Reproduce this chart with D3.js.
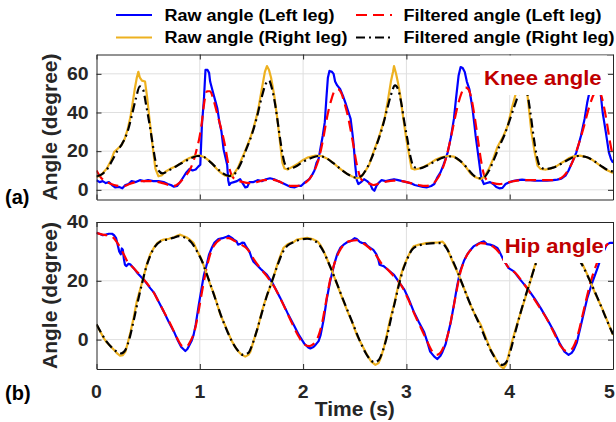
<!DOCTYPE html>
<html>
<head>
<meta charset="utf-8">
<script src="https://cdn.jsdelivr.net/npm/d3@7"></script>
<style>
  body { margin: 0; background: #fff; }
  svg { display: block; }
</style>
</head>
<body>
<svg id="chart" width="616" height="422"></svg>
<script>
// Gait joint angles over 5 s: knee (a) and hip (b), left/right leg, raw and filtered.
const timeTicks = [0, 1, 2, 3, 4, 5];
const kneeTicks = [0, 20, 40, 60];
const hipTicks = [0, 20, 40];

// [time (s), angle (deg)]
const kneeRawLeft = [[0,5],[0.03,4],[0.06,4.5],[0.09,3.5],[0.12,4],[0.15,2.5],[0.18,1.3],[0.22,1.5],[0.25,0.8],[0.28,2.5],[0.31,3],[0.34,4.5],[0.38,4],[0.42,5],[0.46,4.5],[0.5,5],[0.55,4.5],[0.6,4.5],[0.65,4],[0.69,3],[0.72,2.5],[0.75,1.6],[0.78,2],[0.81,4],[0.84,6.5],[0.87,9],[0.9,10.8],[0.93,10],[0.96,10.5],[0.985,12],[1.005,13],[1.02,33],[1.04,47],[1.055,62],[1.075,62],[1.09,60.5],[1.1,56],[1.13,50],[1.15,46],[1.17,42],[1.19,35],[1.21,30],[1.23,21],[1.265,13],[1.275,5],[1.285,2.5],[1.3,3.5],[1.33,4],[1.36,4.5],[1.39,5.5],[1.42,3],[1.44,1.3],[1.46,1.5],[1.48,4],[1.52,4],[1.56,5],[1.6,4.5],[1.64,5.5],[1.68,6],[1.72,5.5],[1.76,4.5],[1.8,3.5],[1.84,2.5],[1.88,1.5],[1.92,1.3],[1.95,2],[1.98,2],[2.02,4],[2.06,5.5],[2.09,8],[2.11,10],[2.13,14],[2.15,16],[2.17,22],[2.19,28],[2.21,35],[2.225,47],[2.24,58],[2.255,61.5],[2.28,61],[2.295,60],[2.31,56],[2.33,54],[2.36,52],[2.39,48],[2.41,45],[2.44,40],[2.46,36.7],[2.48,28],[2.49,23],[2.505,12.5],[2.52,5],[2.535,3],[2.56,4],[2.59,5.5],[2.62,4.5],[2.65,3],[2.67,0.5],[2.69,-0.5],[2.71,2],[2.73,3.5],[2.76,5],[2.8,4.5],[2.84,5],[2.88,5.5],[2.92,5],[2.96,4.5],[3,4],[3.04,3.5],[3.08,2.5],[3.12,2],[3.16,1.5],[3.2,1.3],[3.24,2],[3.27,3],[3.3,6.5],[3.33,9],[3.36,13],[3.38,16],[3.4,19.4],[3.43,27],[3.46,36.7],[3.48,47],[3.505,59],[3.525,63.5],[3.545,63],[3.565,61],[3.585,56],[3.61,52],[3.625,47],[3.64,42],[3.66,33],[3.67,28],[3.69,20],[3.7,16],[3.72,8],[3.73,5.5],[3.75,3],[3.78,3.5],[3.81,4],[3.84,3],[3.87,1.5],[3.9,0.8],[3.93,1],[3.96,3],[4,4],[4.04,4.7],[4.08,5],[4.12,5.3],[4.16,5],[4.2,5],[4.24,4.7],[4.3,4.7],[4.36,4.7],[4.42,5],[4.46,5.3],[4.5,5.8],[4.54,7.3],[4.57,10],[4.59,12.5],[4.62,16],[4.645,19.4],[4.67,24],[4.69,28],[4.71,33],[4.725,36.7],[4.75,45],[4.77,50],[4.8,58],[4.83,62],[4.86,60],[4.88,50],[4.9,40],[4.93,30],[4.96,19.4],[4.98,16],[5,14]];

const kneeFiltLeft = [[0,10],[0.04,6.5],[0.08,4.5],[0.12,3.5],[0.17,2.5],[0.22,2],[0.27,2],[0.32,3],[0.38,4],[0.45,4.5],[0.52,4.5],[0.58,4.2],[0.64,3.5],[0.7,2.5],[0.75,2],[0.8,3.5],[0.85,6.5],[0.9,10],[0.94,15],[0.97,21],[1,28],[1.02,35],[1.04,44],[1.07,51],[1.1,51],[1.13,47],[1.17,39],[1.2,33],[1.24,24],[1.28,12.5],[1.32,6.5],[1.37,4.8],[1.42,4],[1.48,3.5],[1.55,4],[1.62,5],[1.7,5.3],[1.76,4.5],[1.82,3],[1.88,2],[1.94,2],[2,3],[2.06,5.5],[2.1,9],[2.14,14],[2.17,20],[2.2,28],[2.23,37],[2.27,46],[2.31,51.5],[2.34,52],[2.37,50],[2.4,45],[2.43,39],[2.46,31],[2.49,22],[2.52,13],[2.55,7],[2.58,4.5],[2.63,3.5],[2.68,2.5],[2.73,3.2],[2.8,4.2],[2.88,4.8],[2.96,4.5],[3.04,3.5],[3.12,2.5],[3.18,2],[3.24,2.5],[3.29,5],[3.33,8.5],[3.37,14],[3.41,22],[3.45,32],[3.49,42],[3.53,49.5],[3.57,53],[3.6,52],[3.63,47],[3.66,38],[3.69,27],[3.72,16],[3.75,8],[3.79,4.5],[3.84,3.5],[3.9,3],[3.96,3.5],[4.04,4.5],[4.12,5],[4.2,5],[4.3,5],[4.4,5],[4.47,5.5],[4.52,7],[4.57,10.5],[4.62,16],[4.67,24],[4.72,33],[4.77,43],[4.82,50],[4.86,52],[4.9,46],[4.94,35],[4.97,25],[5,17]];

const kneeRawRight = [[0,6.5],[0.05,8],[0.1,11],[0.14,15],[0.17,19.5],[0.2,21],[0.24,23],[0.27,26],[0.3,31],[0.33,38],[0.35,45],[0.37,52],[0.39,58],[0.405,61],[0.42,58],[0.44,56.5],[0.47,56],[0.49,48],[0.51,38],[0.54,24],[0.57,11],[0.6,7],[0.63,7.5],[0.67,9.5],[0.72,11],[0.78,12.5],[0.85,15],[0.9,16.5],[0.95,17.5],[1,17.8],[1.04,17],[1.08,15.5],[1.12,13.5],[1.16,11],[1.2,9],[1.24,7.5],[1.28,7],[1.31,7.2],[1.34,9],[1.37,11.5],[1.39,14],[1.43,19],[1.46,23],[1.49,27],[1.52,32],[1.55,38],[1.57,43],[1.6,52],[1.63,61],[1.65,64],[1.67,62],[1.69,58],[1.72,49],[1.75,37],[1.78,23],[1.8,14],[1.82,11],[1.85,10.5],[1.9,12],[1.95,13.5],[2,15.5],[2.05,16.8],[2.12,17.7],[2.18,17.5],[2.24,16],[2.3,13.5],[2.36,10.8],[2.42,8.5],[2.47,7],[2.52,6],[2.56,6.5],[2.6,9.5],[2.64,13],[2.68,19.4],[2.72,25],[2.75,30],[2.79,37],[2.82,46],[2.85,56],[2.87,61],[2.88,64],[2.9,60],[2.92,55],[2.94,49],[2.97,37],[3,26],[3.03,17],[3.05,11],[3.08,10.5],[3.12,11],[3.16,11.7],[3.22,13.4],[3.28,15.5],[3.34,16.8],[3.4,17.5],[3.46,17.2],[3.53,14.5],[3.58,11.5],[3.62,8.5],[3.67,6.5],[3.72,5.5],[3.76,7],[3.8,11],[3.84,16],[3.88,22],[3.91,25],[3.94,28],[3.98,33],[4.02,42],[4.05,48],[4.08,54],[4.11,59],[4.13,62],[4.15,58],[4.17,50],[4.19,40],[4.21,30],[4.24,20],[4.27,12.5],[4.3,10.8],[4.35,10.5],[4.4,11],[4.46,12.5],[4.52,14.5],[4.57,16.3],[4.62,17.3],[4.68,17.7],[4.74,17],[4.8,15.5],[4.86,13.2],[4.92,10.8],[4.97,9.5],[5,8.7]];

const kneeFiltRight = [[0,7],[0.05,8],[0.1,10.5],[0.15,15],[0.2,20],[0.25,24],[0.3,30],[0.34,38],[0.38,47],[0.42,53.5],[0.45,52],[0.48,44],[0.51,35],[0.54,25],[0.57,15],[0.6,10],[0.64,8.5],[0.7,10],[0.78,12.5],[0.85,14.5],[0.92,16.5],[0.98,17.5],[1.04,17],[1.1,14.5],[1.16,11.5],[1.22,8.7],[1.28,7.2],[1.32,7.5],[1.36,10],[1.4,14],[1.45,21],[1.5,28],[1.55,37],[1.6,48],[1.64,55],[1.67,56.5],[1.7,52],[1.73,44],[1.76,33],[1.79,22],[1.82,14],[1.86,11],[1.92,11.8],[2,14.5],[2.08,16.5],[2.15,17.5],[2.22,16.5],[2.3,13.5],[2.38,10],[2.45,7.5],[2.51,6.3],[2.56,7],[2.61,10.5],[2.66,16],[2.71,23],[2.76,31],[2.81,41],[2.85,49],[2.89,54],[2.92,52],[2.95,45],[2.98,35],[3.01,26],[3.04,17],[3.07,12],[3.12,11],[3.2,12.5],[3.28,14.8],[3.36,16.8],[3.44,17.3],[3.52,15],[3.58,11.8],[3.64,8],[3.7,6],[3.75,6.5],[3.8,10],[3.85,16],[3.9,22.5],[3.95,28.5],[4,36],[4.05,44],[4.1,51],[4.14,53.5],[4.17,50],[4.2,40],[4.23,28],[4.26,18],[4.29,12.5],[4.34,10.8],[4.42,11.5],[4.5,13.5],[4.58,16],[4.66,17.5],[4.74,17],[4.82,14.8],[4.9,11.8],[4.96,10],[5,9.5]];

const hipRawLeft = [[0,36.3],[0.03,36],[0.06,35.5],[0.09,35.7],[0.12,36],[0.15,36],[0.17,35.5],[0.19,34.5],[0.21,31.5],[0.22,30],[0.235,29],[0.245,31],[0.255,30.5],[0.265,27.5],[0.275,25.5],[0.29,25],[0.31,25.8],[0.33,25.5],[0.36,24.3],[0.4,22.5],[0.46,20.3],[0.52,17.5],[0.56,15.8],[0.6,13],[0.65,9.6],[0.7,6],[0.75,2.7],[0.79,-0.5],[0.82,-2.5],[0.86,-3.9],[0.88,-3.2],[0.9,-1.8],[0.92,-0.5],[0.94,1.6],[0.96,5],[0.99,11.8],[1.02,18],[1.04,22],[1.07,26],[1.09,29],[1.12,31.5],[1.14,32.9],[1.18,34.2],[1.22,34.5],[1.26,35],[1.28,35.3],[1.31,34.6],[1.33,34],[1.355,33.5],[1.37,32.3],[1.39,32.5],[1.41,33],[1.43,32.9],[1.45,31.5],[1.48,30],[1.5,28],[1.52,26.5],[1.55,25.5],[1.59,24],[1.65,22],[1.7,19.5],[1.78,14.1],[1.85,9],[1.91,5],[1.96,1.5],[2.01,-1.3],[2.05,-2.7],[2.07,-3],[2.1,-2.5],[2.12,-1.8],[2.15,-0.5],[2.17,1.6],[2.2,7],[2.23,14],[2.26,19.5],[2.3,25.5],[2.33,29],[2.36,31.2],[2.4,32.5],[2.43,33.2],[2.46,33.5],[2.5,34.5],[2.52,34.2],[2.55,33.2],[2.57,32.9],[2.6,32.8],[2.62,32],[2.65,31.2],[2.68,30.5],[2.71,29],[2.73,27],[2.74,25.5],[2.76,25.2],[2.78,25],[2.83,23.5],[2.88,22],[2.93,19.5],[2.98,17],[3.02,14],[3.07,9.6],[3.12,6],[3.17,2.7],[3.2,-0.5],[3.23,-4.1],[3.27,-5.8],[3.3,-6.6],[3.33,-5.5],[3.35,-4.1],[3.38,-1.5],[3.4,1.6],[3.43,6],[3.46,11.8],[3.49,18],[3.52,23.2],[3.56,27],[3.59,29],[3.62,30.5],[3.65,31.7],[3.7,32.7],[3.73,33.2],[3.75,33.4],[3.78,32.5],[3.81,32.3],[3.85,31.8],[3.88,31.2],[3.9,30],[3.93,27.8],[3.96,26],[3.99,24.3],[4.04,23.2],[4.1,20.5],[4.17,17.5],[4.24,14],[4.3,10.7],[4.37,6.5],[4.43,2.7],[4.48,-1],[4.53,-4.1],[4.57,-5.2],[4.6,-4.5],[4.62,-3.5],[4.65,-1],[4.69,5],[4.72,9.5],[4.75,14],[4.8,19.5],[4.85,24.3],[4.89,28.5],[4.94,32.3],[4.97,32.9],[5,32.9]];

const hipFiltLeft = [[0,36.3],[0.05,35.8],[0.1,35.5],[0.15,35],[0.2,33],[0.25,30],[0.3,26.5],[0.36,24.3],[0.42,22],[0.48,19.5],[0.54,16.8],[0.6,13],[0.66,9],[0.72,5],[0.78,0.5],[0.83,-2.2],[0.87,-2.4],[0.91,-0.5],[0.95,3],[0.99,10],[1.03,18],[1.07,25],[1.11,30],[1.16,33],[1.22,34.3],[1.28,34.5],[1.34,33.5],[1.4,32.3],[1.46,30.8],[1.52,27.5],[1.58,24.5],[1.65,21.5],[1.72,18],[1.8,12.5],[1.88,6.5],[1.95,1.5],[2.01,-1.6],[2.06,-2.2],[2.1,-1.5],[2.14,0.5],[2.18,5],[2.22,12.5],[2.26,20],[2.3,25.5],[2.35,30],[2.4,32.5],[2.46,33.6],[2.52,33.8],[2.58,32.8],[2.64,31.2],[2.7,29],[2.76,25.8],[2.82,23.8],[2.88,21.5],[2.95,18.5],[3.02,13.5],[3.08,8.5],[3.14,4],[3.2,-0.5],[3.25,-4],[3.29,-5.2],[3.32,-4.8],[3.36,-2.5],[3.4,1.5],[3.44,8],[3.48,15.5],[3.52,22.5],[3.56,26.8],[3.6,29.5],[3.66,31.5],[3.72,32.8],[3.78,32.6],[3.84,31.6],[3.9,29.5],[3.95,26.5],[4,24],[4.06,22.5],[4.12,19.8],[4.2,15.8],[4.28,11.5],[4.36,7],[4.44,1.5],[4.5,-2.5],[4.55,-3.9],[4.59,-3.6],[4.63,-1.5],[4.67,3],[4.71,9],[4.75,15],[4.8,21.5],[4.85,26.5],[4.9,30.5],[4.95,32.5],[5,33]];

const hipRawRight = [[0,5],[0.04,2.5],[0.07,0.5],[0.1,-1],[0.14,-2.4],[0.17,-3.5],[0.2,-4.7],[0.23,-5.5],[0.255,-5.3],[0.28,-4.1],[0.3,-1.5],[0.33,2.7],[0.36,7.5],[0.39,13],[0.43,18],[0.46,22],[0.49,26],[0.52,29],[0.56,31.5],[0.59,32.9],[0.62,33.6],[0.65,34],[0.7,34.3],[0.75,34.8],[0.78,35.3],[0.81,35.7],[0.84,35.2],[0.88,34.6],[0.91,33.8],[0.94,32.9],[0.97,30.5],[1.01,27.8],[1.04,25],[1.07,22],[1.1,18.8],[1.14,15.2],[1.17,11.8],[1.2,8.4],[1.24,5.2],[1.27,2.7],[1.31,-0.5],[1.36,-3.5],[1.4,-5],[1.44,-5.8],[1.47,-5.2],[1.49,-4.1],[1.52,-0.5],[1.56,3.9],[1.59,8],[1.62,11.8],[1.65,15],[1.69,18.7],[1.72,22],[1.75,25.5],[1.78,28.5],[1.81,31.2],[1.85,32.4],[1.88,32.9],[1.91,33.2],[1.94,34],[1.98,34.3],[2.04,34.6],[2.09,34.2],[2.14,33.4],[2.17,32],[2.2,30],[2.23,27.5],[2.27,24.3],[2.3,21.5],[2.33,18.7],[2.38,14],[2.43,9.6],[2.48,5.5],[2.52,1.6],[2.57,-1.8],[2.62,-5.2],[2.66,-7.5],[2.7,-8.6],[2.73,-8],[2.75,-6.4],[2.78,-3],[2.81,1.6],[2.84,6.5],[2.88,11.8],[2.91,16.5],[2.94,21],[2.97,24.5],[3.01,27.8],[3.04,30],[3.07,31.7],[3.11,32.2],[3.15,32.5],[3.19,32.8],[3.23,32.9],[3.27,33],[3.31,33.1],[3.35,33.3],[3.37,32.5],[3.4,30.6],[3.43,28],[3.46,25.5],[3.5,22.5],[3.53,19.8],[3.58,15.5],[3.62,11.8],[3.67,8],[3.72,5],[3.77,0.5],[3.81,-3],[3.85,-5.5],[3.88,-7.5],[3.91,-9],[3.94,-9.8],[3.965,-8.5],[3.99,-5.2],[4.02,-1],[4.06,3.9],[4.1,8.5],[4.14,13],[4.17,16.5],[4.2,19.8],[4.25,26],[4.3,30],[4.36,32.5],[4.44,33.5],[4.52,33],[4.58,32],[4.63,30],[4.67,27.5],[4.7,26],[4.74,23],[4.78,19.8],[4.83,15.5],[4.88,11.8],[4.92,8.5],[4.96,5],[5,1.6]];

const hipFiltRight = [[0,5.2],[0.05,2],[0.1,-0.8],[0.15,-2.8],[0.2,-4.2],[0.24,-4.7],[0.28,-3.5],[0.32,0.5],[0.36,6.5],[0.4,13],[0.44,19],[0.48,24.5],[0.52,28.5],[0.57,31.8],[0.62,33.4],[0.68,34],[0.74,34.6],[0.8,35.2],[0.86,34.6],[0.92,33],[0.97,30.2],[1.02,26.8],[1.07,22],[1.12,17],[1.17,11.8],[1.22,6.8],[1.27,2.5],[1.32,-1.2],[1.37,-3.8],[1.42,-5.2],[1.47,-4.5],[1.51,-1.5],[1.55,2.8],[1.6,9],[1.65,15],[1.7,20],[1.75,25],[1.8,29.5],[1.85,32],[1.91,33.2],[1.97,34],[2.04,34.3],[2.1,33.8],[2.15,32.5],[2.2,29.8],[2.25,25.8],[2.3,21.5],[2.35,17],[2.4,12.5],[2.45,8.2],[2.5,3.8],[2.55,-0.5],[2.6,-4.2],[2.65,-6.8],[2.69,-7.7],[2.73,-7],[2.77,-4],[2.81,0.8],[2.85,7],[2.89,13],[2.93,19],[2.97,24],[3.01,27.6],[3.06,30.8],[3.12,32],[3.2,32.6],[3.28,32.8],[3.34,32.8],[3.39,31],[3.44,27.5],[3.49,23.5],[3.54,19],[3.59,14.5],[3.64,10.3],[3.69,6.5],[3.74,2.5],[3.79,-1.8],[3.84,-5.2],[3.88,-7.5],[3.93,-8.6],[3.97,-7.5],[4.01,-3.5],[4.05,2],[4.1,8.5],[4.15,14.5],[4.2,20],[4.25,25.5],[4.3,29.5],[4.38,32.5],[4.46,33.3],[4.54,32.8],[4.6,31],[4.65,28.5],[4.7,25.5],[4.75,22],[4.8,18.2],[4.85,14.2],[4.9,10],[4.95,5.8],[5,1.8]];

const legendItems = ["Raw angle (Left leg)", "Filtered angle (Left leg)", "Raw angle (Right leg)", "Filtered angle (Right leg)"];

const FONT = "'Liberation Sans', Arial, Helvetica, sans-serif";
const AXIS_COLOR = "#262626";
const GRID_COLOR = "#dfdfdf";
const styles = {
  rawLeft:   { stroke: "#0000ff", dash: null,        width: 2.2, curve: d3.curveLinear },
  filtLeft:  { stroke: "#ff0000", dash: "11,6",      width: 2.2, curve: d3.curveMonotoneX },
  rawRight:  { stroke: "#EDB120", dash: null,        width: 2.2, curve: d3.curveLinear },
  filtRight: { stroke: "#000000", dash: "9,4,2,4",   width: 2.2, curve: d3.curveMonotoneX }
};

const svg = d3.select("#chart");
svg.append("rect").attr("width", 616).attr("height", 422).attr("fill", "#fff");

function label(sel, x, y, s, size, o = {}) {
  return sel.append("text")
    .attr("transform", `translate(${x},${y}) rotate(${o.rotate || 0}) scale(${o.sx || 1},1)`)
    .attr("text-anchor", o.anchor || "start")
    .attr("font-family", FONT)
    .attr("font-weight", "bold")
    .attr("font-size", size)
    .attr("fill", o.fill || AXIS_COLOR)
    .text(s);
}

const left = 96.5, right = 613;
const x = d3.scaleLinear().domain([0, 5]).range([left, right]);

function panel(id, top, bottom, yDomain, yTicks, series, showX) {
  const y = d3.scaleLinear().domain(yDomain).range([bottom, top]);
  const g = svg.append("g");

  // grid
  g.append("g").selectAll("line").data(timeTicks.slice(1, -1)).join("line")
    .attr("x1", d => x(d)).attr("x2", d => x(d)).attr("y1", top).attr("y2", bottom)
    .attr("stroke", GRID_COLOR).attr("stroke-width", 1);
  g.append("g").selectAll("line").data(yTicks.filter(v => y(v) > top + 1 && y(v) < bottom - 1)).join("line")
    .attr("x1", left).attr("x2", right).attr("y1", d => y(d)).attr("y2", d => y(d))
    .attr("stroke", GRID_COLOR).attr("stroke-width", 1);

  // curves
  g.append("clipPath").attr("id", "clip-" + id)
    .append("rect").attr("x", left).attr("y", top).attr("width", right - left).attr("height", bottom - top);
  const lines = g.append("g").attr("clip-path", `url(#clip-${id})`);
  series.forEach(([data, st]) => {
    const line = d3.line().x(d => x(d[0])).y(d => y(d[1])).curve(st.curve);
    lines.append("path").datum(data).attr("d", line)
      .attr("fill", "none").attr("stroke", st.stroke).attr("stroke-width", st.width)
      .attr("stroke-dasharray", st.dash).attr("stroke-linejoin", "round");
  });

  // axes box with mirrored inward ticks
  const xb = d3.axisBottom(x).tickValues(timeTicks).tickSize(-5).tickSizeOuter(0).tickFormat("");
  const xt = d3.axisTop(x).tickValues(timeTicks).tickSize(-5).tickSizeOuter(0).tickFormat("");
  const yl = d3.axisLeft(y).tickValues(yTicks).tickSize(-5).tickSizeOuter(0).tickFormat("");
  const yr = d3.axisRight(y).tickValues(yTicks).tickSize(-5).tickSizeOuter(0).tickFormat("");
  [[xb, `translate(0,${bottom})`], [xt, `translate(0,${top})`], [yl, `translate(${left},0)`], [yr, `translate(${right},0)`]]
    .forEach(([ax, tr]) => {
      const a = g.append("g").attr("transform", tr).call(ax);
      a.selectAll("path.domain").attr("stroke", AXIS_COLOR).attr("stroke-width", 1);
      a.selectAll(".tick line").attr("stroke", AXIS_COLOR);
      a.selectAll(".tick text").remove();
    });

  // tick labels
  yTicks.forEach(v => label(g, 88.5, y(v) + 6.3, String(v), 18, { anchor: "end", sx: 1.08 }));
  if (showX) timeTicks.forEach(t => label(g, Math.min(x(t), 609.5), 398, String(t), 18, { anchor: "middle", sx: 1.08 }));

  // y title
  label(g, 57, (top + bottom) / 2, "Angle (degree)", 21, { anchor: "middle", rotate: -90 });
  return { g, y };
}

const knee = panel("knee", 54.5, 199.5, [-5, 70], kneeTicks, [
  [kneeRawLeft, styles.rawLeft], [kneeFiltLeft, styles.filtLeft],
  [kneeRawRight, styles.rawRight], [kneeFiltRight, styles.filtRight]
], false);

const hip = panel("hip", 222, 369, [-10, 40], hipTicks, [
  [hipRawLeft, styles.rawLeft], [hipFiltLeft, styles.filtLeft],
  [hipRawRight, styles.rawRight], [hipFiltRight, styles.filtRight]
], true);

// in-plot titles on white backgrounds
knee.g.append("rect").attr("x", 480).attr("y", 55.5).attr("width", 127).attr("height", 39.5).attr("fill", "#fff");
label(knee.g, 484, 85.3, "Knee angle", 21, { fill: "#c00000", sx: 1.05 });
hip.g.append("rect").attr("x", 503).attr("y", 223).attr("width", 102).attr("height", 40).attr("fill", "#fff");
label(hip.g, 504.7, 253, "Hip angle", 21, { fill: "#c00000", sx: 1.05 });

// panel letters and x title
label(svg, 5, 204, "(a)", 20, { fill: "#000" });
label(svg, 5, 400, "(b)", 20, { fill: "#000" });
label(svg, (left + right) / 2, 416, "Time (s)", 21, { anchor: "middle" });

// legend (2 columns)
const legend = svg.append("g");
const legendStyles = [styles.rawLeft, styles.filtLeft, styles.rawRight, styles.filtRight];
const colLine = [116, 356], colText = [164.5, 403.5];
legendItems.forEach((name, i) => {
  const col = i % 2, row = Math.floor(i / 2);
  const ly = row === 0 ? 15 : 37.5;
  const st = legendStyles[i];
  legend.append("line").attr("x1", colLine[col]).attr("x2", colLine[col] + 36).attr("y1", ly).attr("y2", ly)
    .attr("stroke", st.stroke).attr("stroke-width", 2).attr("stroke-dasharray", st.dash);
  label(legend, colText[col], row === 0 ? 20.7 : 43, name, 17, { fill: "#000", sx: 1.06 });
});
</script>
</body>
</html>
